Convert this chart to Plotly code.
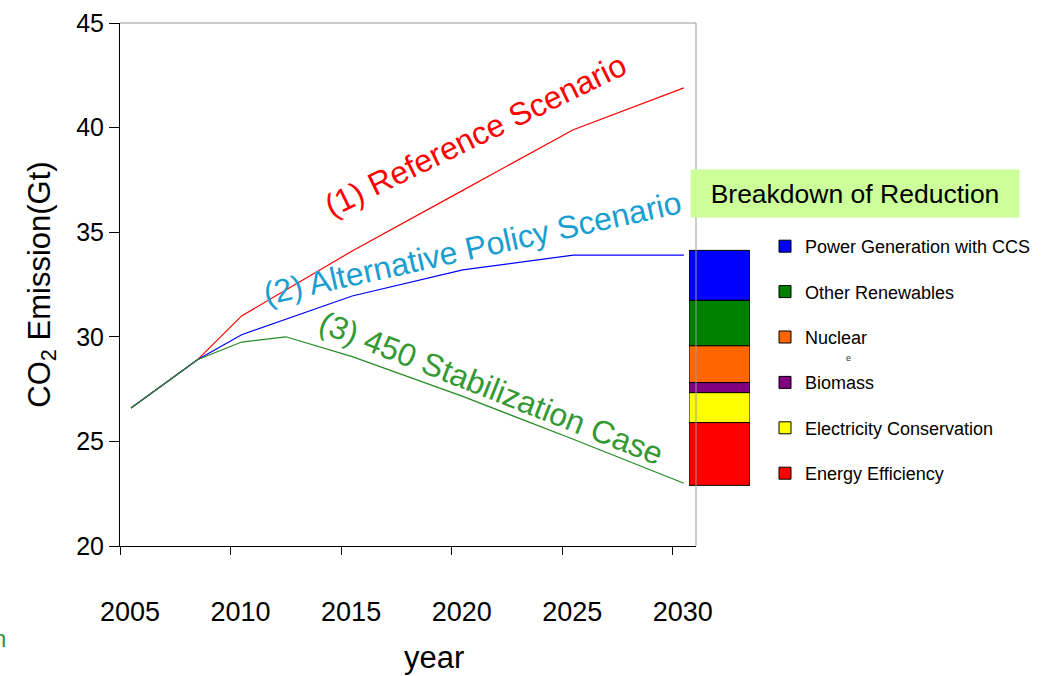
import plotly.graph_objects as go

# ---------------- data ----------------
ref_years = [2005, 2008, 2010, 2015, 2020, 2025, 2030]
ref_values = [26.6, 28.9, 31.0, 34.1, 37.0, 39.9, 41.9]

alt_years = [2005, 2008, 2010, 2015, 2020, 2025, 2030]
alt_values = [26.6, 28.9, 30.1, 31.95, 33.2, 33.9, 33.9]

stab_years = [2005, 2008, 2010, 2012, 2015, 2020, 2025, 2030]
stab_values = [26.6, 28.9, 29.75, 30.0, 29.05, 27.15, 25.1, 23.0]

# breakdown of reduction (bottom to top)
reduction_base = 22.9
reduction_labels = ["Energy Efficiency", "Electricity Conservation", "Biomass",
                    "Nuclear", "Other Renewables", "Power Generation with CCS"]
reduction_values = [3.0, 1.43, 0.48, 1.76, 2.17, 2.39]
reduction_colors = ["#FF0000", "#FFFF00", "#800080", "#FF6600", "#008000", "#0000FF"]

tick_years = [2005, 2010, 2015, 2020, 2025, 2030]
y_ticks = [20, 25, 30, 35, 40, 45]

# ---------------- figure ----------------
W, H = 1045, 676
ML, MR, MT, MB = 120, 0, 23, 130
PW = W - ML - MR
PH = H - MT - MB


def px_x(p):
    return (p - ML) / PW


def px_y(p):
    return (H - MB - p) / PH


arial = "Liberation Sans, Arial, sans-serif"

fig = go.Figure()

fig.add_trace(go.Scatter(x=ref_years, y=ref_values, mode="lines",
                         line=dict(color="#FF0000", width=1.2), showlegend=False))
fig.add_trace(go.Scatter(x=alt_years, y=alt_values, mode="lines",
                         line=dict(color="#0000FF", width=1.2), showlegend=False))
fig.add_trace(go.Scatter(x=stab_years, y=stab_values, mode="lines",
                         line=dict(color="#238B23", width=1.2), showlegend=False))

# cumulative bases, bottom to top
bases = []
b = reduction_base
for v in reduction_values:
    bases.append(b)
    b += v

# add top segment first so that the legend lists it first
for lab, val, bs, col in reversed(list(zip(reduction_labels, reduction_values,
                                            bases, reduction_colors))):
    fig.add_trace(go.Bar(x=[0], y=[val], base=[bs], width=[1], name=lab,
                         xaxis="x2", yaxis="y", legendgroup=lab,
                         marker=dict(color=col, line=dict(color="black", width=1))))

fig.update_layout(
    width=W, height=H,
    margin=dict(l=ML, r=MR, t=MT, b=MB, autoexpand=False),
    paper_bgcolor="white", plot_bgcolor="white",
    barmode="overlay",
    font=dict(family=arial, color="black"),
    xaxis=dict(
        domain=[0, px_x(696)],
        range=[2004.5, 2030.55],
        tickvals=[y - 0.5 for y in tick_years],
        ticktext=[str(y) for y in tick_years],
        ticks="outside", ticklen=8, tickcolor="black",
        ticklabelshift=10, ticklabelstandoff=34,
        tickfont=dict(family=arial, size=27, color="black"),
        showline=True, linecolor="black", linewidth=1,
        showgrid=False, zeroline=False,
    ),
    xaxis2=dict(domain=[px_x(689), px_x(750)], range=[-0.5, 0.5],
                anchor="y", visible=False, fixedrange=True),
    yaxis=dict(
        range=[20, 45],
        tickvals=y_ticks,
        ticks="outside", ticklen=10, tickcolor="black",
        tickfont=dict(family=arial, size=25, color="black"),
        showline=True, linecolor="black", linewidth=1,
        showgrid=False, zeroline=False,
        title=dict(text="CO<sub>2</sub> Emission(Gt)",
                   font=dict(family=arial, size=31, color="black"), standoff=16),
    ),
    legend=dict(
        x=px_x(765), y=px_y(228), xanchor="left", yanchor="top",
        traceorder="grouped", tracegroupgap=19,
        font=dict(family=arial, size=18, color="black"),
        bgcolor="rgba(0,0,0,0)",
    ),
    showlegend=True,
)

# plot border (top/right in grey)
fig.add_shape(type="line", xref="x domain", yref="y domain", x0=0, x1=1, y0=1, y1=1,
              line=dict(color="#999999", width=1), layer="above")
fig.add_shape(type="line", xref="x domain", yref="y domain", x0=1, x1=1, y0=0, y1=1,
              line=dict(color="#999999", width=1), layer="above")

annots = [
    dict(text="(1) Reference Scenario", x=2020.6, y=39.65, textangle=-26,
         font=dict(family=arial, size=32, color="#FF0000")),
    dict(text="(2) Alternative Policy Scenario", x=2020.45, y=34.24, textangle=-12.5,
         font=dict(family=arial, size=32, color="#1A9ED0")),
    dict(text="(3) 450 Stabilization Case", x=2021.28, y=27.55, textangle=21.5,
         font=dict(family=arial, size=32, color="#339933")),
]
for a in annots:
    fig.add_annotation(xref="x", yref="y", showarrow=False, xanchor="center",
                       yanchor="middle", **a)

fig.add_annotation(text="year", xref="x", yref="paper", x=2018.69, y=px_y(657),
                   showarrow=False, xanchor="center", yanchor="middle",
                   font=dict(family=arial, size=31, color="black"))

fig.add_annotation(text="Breakdown of Reduction", xref="paper", yref="paper",
                   x=px_x(855), y=px_y(193.5), xanchor="center", yanchor="middle",
                   width=328, height=47, bgcolor="#CCFF99", borderpad=0,
                   showarrow=False, font=dict(family=arial, size=26.5, color="black"))

fig.add_annotation(text="e", xref="paper", yref="paper", x=px_x(848), y=px_y(358),
                   xanchor="center", yanchor="middle", showarrow=False,
                   font=dict(family=arial, size=9, color="#333333"))

fig.add_annotation(text="n", xref="paper", yref="paper", x=px_x(8), y=px_y(638),
                   xanchor="right", yanchor="middle", showarrow=False,
                   font=dict(family=arial, size=24, color="#339933"))

fig.write_html("out.html")
